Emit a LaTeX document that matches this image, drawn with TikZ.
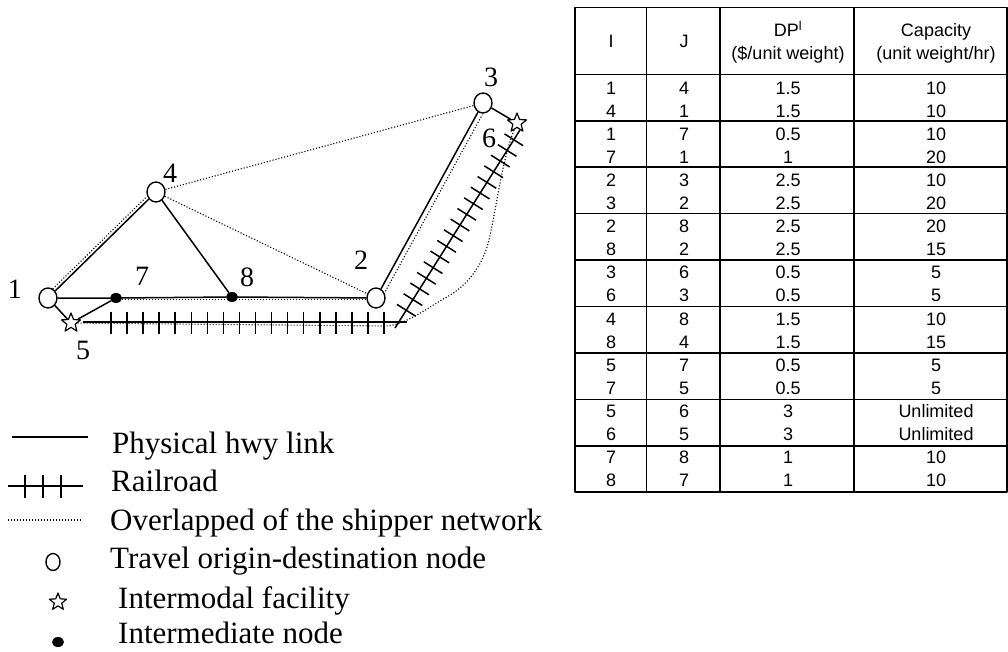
\documentclass[tikz,border=0pt]{standalone}
\usepackage{fontspec}
\setmainfont{Liberation Serif}
\newfontfamily\tabfont{Liberation Sans}
\usetikzlibrary{shapes.geometric}

\begin{document}
\begin{tikzpicture}[x=1pt, y=-1pt, line join=round,
		hwy/.style={line width=1.5pt},
		rail/.style={line width=1.5pt},
		shipper/.style={line width=1.1pt, dash pattern=on 1.1pt off 1.9pt},
		odnode/.style={draw, ellipse, line width=1.4pt, fill=white, minimum width=18pt, minimum height=20pt, inner sep=0pt},
		imnode/.style={draw, star, star points=5, star point ratio=2.3, line width=1.2pt, fill=white, minimum size=20pt, inner sep=0pt},
		midnode/.style={fill, ellipse, minimum width=12pt, minimum height=10pt, inner sep=0pt},
		lbl/.style={font=\fontsize{28}{30}\selectfont, inner sep=0pt},
		leg/.style={font=\fontsize{31}{34}\selectfont, anchor=base west, inner sep=0pt},
		cell/.style={font=\tabfont\fontsize{18}{20}\selectfont, anchor=base, inner sep=0pt}]
	\useasboundingbox (0,0) rectangle (1008,652);
	% railroad
	\draw[rail] (83,322) -- (407,322);
	\foreach \k in {0,...,17}
		\draw[rail] ({111+16.06*\k},312) -- ({111+16.06*\k},334);
	\draw[rail] (395,328) -- (520,130);
	\foreach \k in {0,...,16}{
		\pgfmathsetmacro\s{21+12.6*\k}
		\draw[rail] ({395+0.5338*\s-0.8455*11},{328-0.8455*\s-0.5338*11}) -- ({395+0.5338*\s+0.8455*11},{328-0.8455*\s+0.5338*11});
	}
	% nodes
	\node[odnode] (n1) at (48,298) {};
	\node[odnode] (n2) at (376,298) {};
	\node[odnode] (n3) at (483,103) {};
	\node[odnode] (n4) at (156,192) {};
	\node[imnode] (n5) at (71,323) {};
	\node[imnode] (n6) at (517,123) {};
	\node[midnode] (n7) at (116,298) {};
	\node[midnode] (n8) at (232,297) {};
	\node[lbl] (l1) at (15,289) {1};
	\node[lbl] (l2) at (361,260) {2};
	\node[lbl] (l3) at (491,77) {3};
	\node[lbl] (l4) at (170,173) {4};
	\node[lbl] (l5) at (83,350) {5};
	\node[lbl] (l6) at (489,138) {6};
	\node[lbl] (l7) at (142,276) {7};
	\node[lbl] (l8) at (247,277) {8};
	% highway links
	\draw[hwy] (n1) -- (n4);
	\draw[hwy] (n4) -- (n8);
	\draw[hwy] (n1) -- (n7) -- (n8) -- (n2);
	\draw[hwy] (n2) -- (n3);
	\draw[hwy] (n3) -- (n6);
	\draw[hwy] (n1) -- (n5);
	\draw[hwy] (n5) -- (n7);
	% shipper network
	\draw[shipper, transform canvas={xshift=-2.5pt, yshift=2pt}] (n1) -- (n4);
	\draw[shipper, transform canvas={yshift=-1.5pt}] (n7) -- (n2);
	\draw[shipper, transform canvas={xshift=4.4pt, yshift=-2.4pt}] (n2) -- (n3);
	\draw[shipper] (n4) -- (n3);
	\draw[shipper] (n4) -- (n2);
	\draw[shipper] (n5) -- (385,326) .. controls (405,326) and (430,306) .. (447,297)
		.. controls (468,285) and (483,265) .. (489,240) .. controls (497,205) and (502,160) .. (n6);
	% table
	\draw[line width=1.6pt] (575,7.5) rectangle (1007,492);
	\foreach \x in {646.5,720,854}
		\draw[line width=1.6pt] (\x,7.5) -- (\x,492);
	\foreach \k in {0,...,8}
		\draw[line width=1.6pt] (575,{74.5+46.4*\k}) -- (1007,{74.5+46.4*\k});
	\node[cell] (hi) at (611,47.5) {I};
	\node[cell] (hj) at (684,47.5) {J};
	\node[cell] (hdp) at (788,36.7) {DP\textsuperscript{l}};
	\node[cell] (hdpu) at (788,59.5) {(\$/unit weight)};
	\node[cell] (hcap) at (936,36.7) {Capacity};
	\node[cell] (hcapu) at (936,59.5) {(unit weight/hr)};
	\foreach \ii/\jj/\dpv/\capv [count=\r from 0] in {1/4/1.5/10, 4/1/1.5/10, 1/7/0.5/10, 7/1/1/20,
			2/3/2.5/10, 3/2/2.5/20, 2/8/2.5/20, 8/2/2.5/15, 3/6/0.5/5, 6/3/0.5/5,
			4/8/1.5/10, 8/4/1.5/15, 5/7/0.5/5, 7/5/0.5/5, 5/6/3/Unlimited, 6/5/3/Unlimited,
			7/8/1/10, 8/7/1/10}{
		\node[cell] (ti\r) at (611,{94.4+23.06*\r}) {\ii};
		\node[cell] (tj\r) at (684,{94.4+23.06*\r}) {\jj};
		\node[cell] (td\r) at (788,{94.4+23.06*\r}) {\dpv};
		\node[cell] (tc\r) at (936,{94.4+23.06*\r}) {\capv};
	}
	% legend
	\draw[hwy] (12,437) -- (88,437);
	\draw[rail] (8,486) -- (83,486);
	\foreach \x in {25,43,61}
		\draw[rail] (\x,475) -- (\x,498);
	\draw[shipper] (8,520) -- (82,520);
	\node[odnode, minimum width=14pt, minimum height=17pt] (lgod) at (53,562) {};
	\node[imnode, minimum size=18pt] (lgim) at (58,602) {};
	\node[midnode] (lgmid) at (58,642) {};
	\node[leg] (t1) at (112,453) {Physical hwy link};
	\node[leg] (t2) at (111,491) {Railroad};
	\node[leg] (t3) at (110,530) {Overlapped of the shipper network};
	\node[leg] (t4) at (110,568) {Travel origin-destination node};
	\node[leg] (t5) at (118,608) {Intermodal facility};
	\node[leg] (t6) at (118,643) {Intermediate node};
\end{tikzpicture}
\end{document}
